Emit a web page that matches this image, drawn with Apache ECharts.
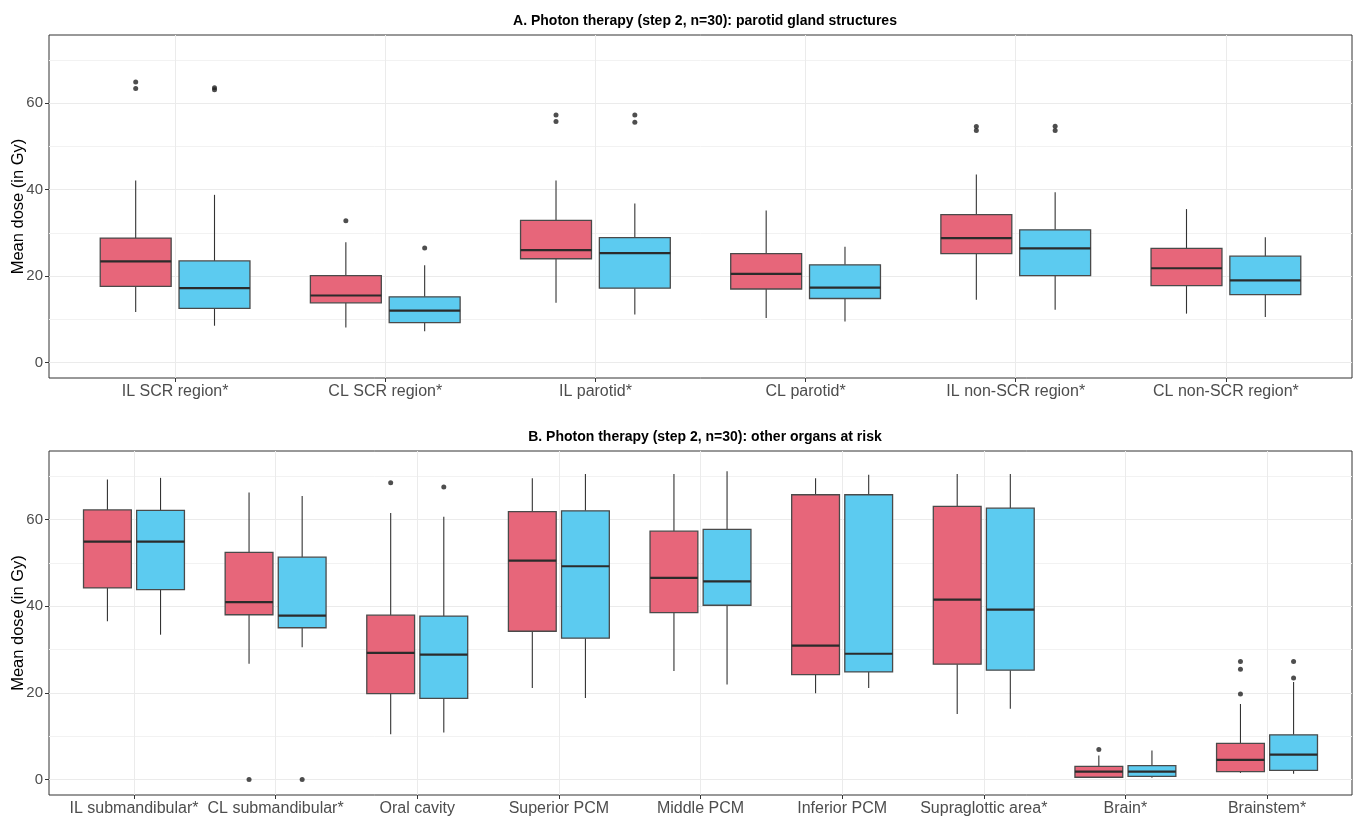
<!DOCTYPE html>
<html>
<head>
<meta charset="utf-8">
<script src="https://cdn.jsdelivr.net/npm/echarts@6/dist/echarts.min.js"></script>
<style>
  html, body { margin: 0; padding: 0; background: #ffffff; }
  #chart { width: 1354px; height: 818px; }
</style>
</head>
<body>
<div id="chart"></div>
<script>
// ---- Panel A: parotid gland structures ----
const parotidStructures = ['IL SCR region*', 'CL SCR region*', 'IL parotid*', 'CL parotid*', 'IL non-SCR region*', 'CL non-SCR region*'];
// [lower whisker, Q1, median, Q3, upper whisker]
const parotidFirst = [
  [11.7, 17.6, 23.4, 28.8, 42.1],
  [8.1, 13.8, 15.5, 20.1, 27.8],
  [13.8, 24.0, 26.0, 32.9, 42.1],
  [10.3, 17.0, 20.5, 25.2, 35.2],
  [14.5, 25.2, 28.8, 34.2, 43.5],
  [11.3, 17.8, 21.8, 26.4, 35.5]
];
const parotidSecond = [
  [8.5, 12.5, 17.2, 23.5, 38.8],
  [7.2, 9.2, 12.0, 15.2, 22.5],
  [11.1, 17.2, 25.3, 28.9, 36.8],
  [9.5, 14.8, 17.3, 22.6, 26.8],
  [12.2, 20.1, 26.4, 30.7, 39.4],
  [10.5, 15.7, 19.0, 24.6, 29.0]
];
const parotidFirstOutliers = [[64.9, 63.4], [32.8], [57.3, 55.8], [], [54.6, 53.7], []];
const parotidSecondOutliers = [[63.6, 63.1], [26.5], [57.3, 55.6], [], [54.7, 53.7], []];

// ---- Panel B: other organs at risk ----
const otherOrgans = ['IL submandibular*', 'CL submandibular*', 'Oral cavity', 'Superior PCM', 'Middle PCM', 'Inferior PCM', 'Supraglottic area*', 'Brain*', 'Brainstem*'];
const organsFirst = [
  [36.5, 44.2, 54.9, 62.2, 69.2],
  [26.7, 38.0, 40.9, 52.4, 66.2],
  [10.4, 19.8, 29.2, 37.9, 61.5],
  [21.1, 34.2, 50.5, 61.8, 69.5],
  [25.0, 38.5, 46.5, 57.3, 70.5],
  [19.9, 24.2, 30.9, 65.7, 69.5],
  [15.1, 26.6, 41.5, 63.0, 70.5],
  [0.3, 0.5, 1.8, 3.0, 5.5],
  [1.5, 1.8, 4.5, 8.3, 17.4]
];
const organsSecond = [
  [33.4, 43.8, 54.9, 62.1, 69.6],
  [30.5, 35.0, 37.8, 51.3, 65.4],
  [10.8, 18.7, 28.8, 37.7, 60.6],
  [18.8, 32.6, 49.2, 62.0, 70.5],
  [21.9, 40.2, 45.7, 57.7, 71.1],
  [21.1, 24.8, 29.0, 65.7, 70.3],
  [16.3, 25.2, 39.2, 62.6, 70.5],
  [0.4, 0.7, 1.8, 3.2, 6.7],
  [1.3, 2.1, 5.7, 10.3, 22.5]
];
const organsFirstOutliers = [[], [0], [68.5], [], [], [], [], [6.9], [27.2, 25.4, 19.7]];
const organsSecondOutliers = [[], [0], [67.5], [], [], [], [], [], [27.2, 23.4]];

const doseTicks = [0, 20, 40, 60];
const doseMinorTicks = [10, 30, 50, 70];

// ---- drawing ----
const FIRST_FILL = '#E7667A';
const SECOND_FILL = '#5CCBF0';
const DODGE = 0.1875;      // half of the dodge width (0.75 / 4)
const BOX_WIDTH = 0.3375;  // each box, in category units
const FONT = 'Liberation Sans, Arial, sans-serif';
const Y_MIN = -3.6, Y_MAX = 75.8;

function boxRenderer(offset, fill) {
  return function (params, api) {
    const c = api.value(0) + offset;
    const lo = api.coord([c, api.value(1)]);
    const q1 = api.coord([c - BOX_WIDTH / 2, api.value(2)]);
    const med = api.coord([c, api.value(3)]);
    const q3 = api.coord([c + BOX_WIDTH / 2, api.value(4)]);
    const hi = api.coord([c, api.value(5)]);
    const x0 = q1[0], x1 = q3[0];
    return {
      type: 'group',
      children: [
        { type: 'line', shape: { x1: hi[0], y1: hi[1], x2: hi[0], y2: q3[1] }, style: { stroke: '#333333', lineWidth: 1.1 } },
        { type: 'line', shape: { x1: lo[0], y1: lo[1], x2: lo[0], y2: q1[1] }, style: { stroke: '#333333', lineWidth: 1.1 } },
        { type: 'rect', shape: { x: x0, y: q3[1], width: x1 - x0, height: q1[1] - q3[1] }, style: { fill: fill, stroke: '#4a4a4a', lineWidth: 1.3 } },
        { type: 'line', shape: { x1: x0, y1: med[1], x2: x1, y2: med[1] }, style: { stroke: '#2b2b2b', lineWidth: 2.2 } }
      ]
    };
  };
}

function boxData(stats) {
  return stats.map((s, i) => [i + 1].concat(s));
}

function outlierData(lists, offset) {
  const pts = [];
  lists.forEach((vals, i) => vals.forEach(v => pts.push([i + 1 + offset, v])));
  return pts;
}

function xAxisFor(cats, gridIndex) {
  const positions = cats.map((_, i) => i + 1);
  return {
    type: 'value', gridIndex: gridIndex,
    min: 0.4, max: cats.length + 0.6,
    axisLine: { show: false, onZero: false },
    axisTick: { show: true, customValues: positions, length: 4, lineStyle: { color: '#333333', width: 1 } },
    axisLabel: { customValues: positions, formatter: v => cats[Math.round(v) - 1], color: '#4D4D4D', fontSize: 16, fontFamily: FONT, margin: 6 },
    splitLine: { show: true, customValues: positions, lineStyle: { color: '#EBEBEB', width: 1 } }
  };
}

function yAxesFor(gridIndex) {
  return [
    {
      type: 'value', gridIndex: gridIndex, min: Y_MIN, max: Y_MAX,
      name: 'Mean dose (in Gy)', nameLocation: 'middle', nameGap: 22, nameMoveOverlap: false,
      nameTextStyle: { color: '#000000', fontSize: 16.5, fontFamily: FONT },
      axisLine: { show: false, onZero: false },
      axisTick: { show: true, customValues: doseTicks, length: 4, lineStyle: { color: '#333333', width: 1 } },
      axisLabel: { customValues: doseTicks, color: '#4D4D4D', fontSize: 15, fontFamily: FONT, margin: 6 },
      splitLine: { show: true, customValues: doseTicks, lineStyle: { color: '#EBEBEB', width: 1.2 } }
    },
    {
      type: 'value', gridIndex: gridIndex, min: Y_MIN, max: Y_MAX,
      axisLine: { show: false, onZero: false },
      axisTick: { show: false, customValues: doseMinorTicks },
      axisLabel: { show: false, customValues: doseMinorTicks },
      splitLine: { show: true, customValues: doseMinorTicks, lineStyle: { color: '#F2F2F2', width: 1 } }
    }
  ];
}

function panelSeries(stats1, stats2, out1, out2, xIdx, yIdx) {
  const common = { type: 'custom', xAxisIndex: xIdx, yAxisIndex: yIdx, encode: { x: 0, y: [1, 2, 3, 4, 5] }, silent: true, z: 3 };
  const dot = { type: 'scatter', xAxisIndex: xIdx, yAxisIndex: yIdx, symbol: 'circle', symbolSize: 5, itemStyle: { color: '#222222' }, silent: true, z: 4 };
  return [
    Object.assign({}, common, { data: boxData(stats1), renderItem: boxRenderer(-DODGE, FIRST_FILL) }),
    Object.assign({}, common, { data: boxData(stats2), renderItem: boxRenderer(DODGE, SECOND_FILL) }),
    Object.assign({}, dot, { data: outlierData(out1, -DODGE) }),
    Object.assign({}, dot, { data: outlierData(out2, DODGE) })
  ];
}

const yAxesA = yAxesFor(0);
const yAxesB = yAxesFor(1);

const chart = echarts.init(document.getElementById('chart'), null, { renderer: 'canvas' });
chart.setOption({
  backgroundColor: '#ffffff',
  animation: false,
  title: [
    { text: 'A. Photon therapy (step 2, n=30): parotid gland structures', left: 700, top: 9, textAlign: 'center',
      textStyle: { fontSize: 14, fontWeight: 'bold', color: '#000000', fontFamily: FONT } },
    { text: 'B. Photon therapy (step 2, n=30): other organs at risk', left: 700, top: 425, textAlign: 'center',
      textStyle: { fontSize: 14, fontWeight: 'bold', color: '#000000', fontFamily: FONT } }
  ],
  grid: [
    { left: 49, right: 2, top: 35, height: 343, outerBoundsMode: 'none', containLabel: false,
      show: true, borderColor: '#333333', borderWidth: 1, backgroundColor: '#ffffff' },
    { left: 49, right: 2, top: 451, height: 344, outerBoundsMode: 'none', containLabel: false,
      show: true, borderColor: '#333333', borderWidth: 1, backgroundColor: '#ffffff' }
  ],
  xAxis: [xAxisFor(parotidStructures, 0), xAxisFor(otherOrgans, 1)],
  yAxis: [yAxesA[0], yAxesA[1], yAxesB[0], yAxesB[1]],
  series: [].concat(
    panelSeries(parotidFirst, parotidSecond, parotidFirstOutliers, parotidSecondOutliers, 0, 0),
    panelSeries(organsFirst, organsSecond, organsFirstOutliers, organsSecondOutliers, 1, 2)
  )
});
</script>
</body>
</html>
